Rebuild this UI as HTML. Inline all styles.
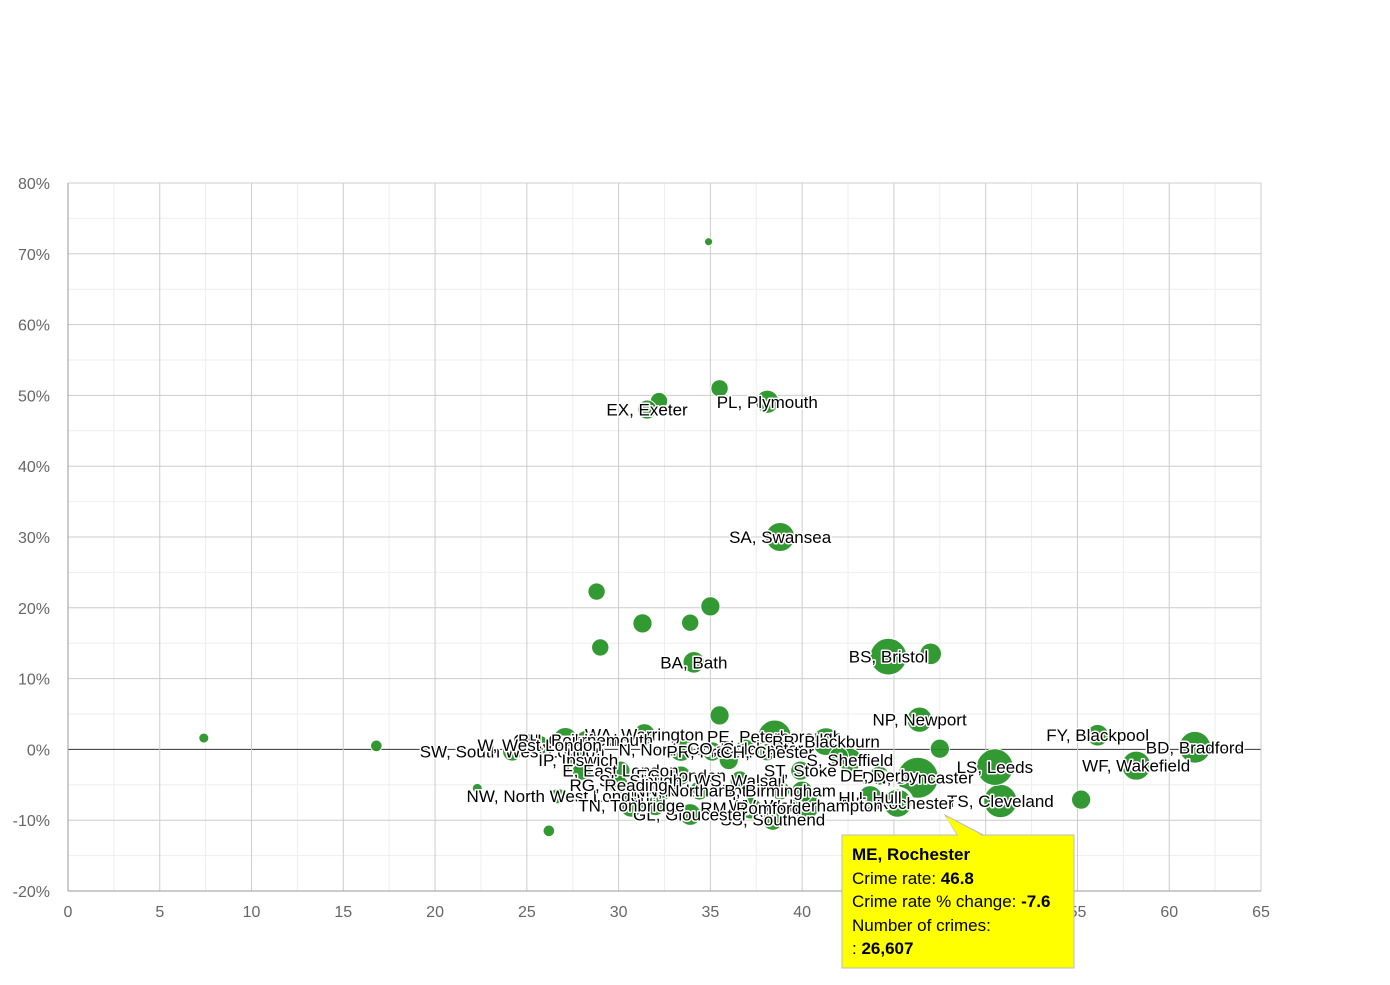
<!DOCTYPE html>
<html><head><meta charset="utf-8"><style>
body{margin:0;background:#fff;font-family:"Liberation Sans",sans-serif}
svg text{font-family:"Liberation Sans",sans-serif}
</style></head><body>
<svg id="chart" width="1390" height="980" xmlns="http://www.w3.org/2000/svg">
<g id="grid"></g>
<g id="axes"></g>
<g id="bubbles"></g>
<g id="labels"></g>
<g>
<path d="M945,815 L958,836 L985,836 Z" fill="#ffff00" stroke="#bbb"/>
<rect x="842" y="835" width="232" height="133" fill="#ffff00" stroke="#bbb"/>
<path d="M946,817 L959,837 L984,837" fill="#ffff00"/>
<text x="852" y="860" font-size="17" font-weight="bold">ME, Rochester</text>
<text x="852" y="884" font-size="17">Crime rate: <tspan font-weight="bold">46.8</tspan></text>
<text x="852" y="907" font-size="17">Crime rate % change: <tspan font-weight="bold">-7.6</tspan></text>
<text x="852" y="931" font-size="17">Number of crimes:</text>
<text x="852" y="954" font-size="17">: <tspan font-weight="bold">26,607</tspan></text>
</g>
</svg>
<script>
const xTicks=[0,5,10,15,20,25,30,35,40,45,50,55,60,65];
const yTicks=[-20,-10,0,10,20,30,40,50,60,70,80];
const rates=[7.4,16.8,22.3,26.2,34.9,35.5,32.2,31.55,38.1,38.8,28.8,35,31.3,33.9,29,34.1,44.7,47,35.5,46.4,47.5,56.1,61.4,58.2,55.2,50.8,50.5,46.3,45.2,43.7,38.5,41.3,40.2,38.4,37.2,33.9,31.4,27.1,28.2,24.2,25.7,26.7,27.8,30.1,30.7,32.3,33.4,35.1,36.9,38.1,33.4,36.6,39.9,42.6,44.2,31.2,34.4,38.8,30,28,36,42,40,32];
const changes=[1.6,0.5,-5.5,-11.5,71.7,51,49.2,48,49.1,30,22.3,20.2,17.8,17.9,14.4,12.3,13.1,13.5,4.8,4.2,0.1,2,0.3,-2.3,-7.1,-7.3,-2.5,-4,-7.6,-6.8,1.8,1.1,-7.9,-9.9,-8.3,-9.2,2.1,1.3,1.3,-0.3,0.6,-6.6,-1.5,-3,-7.9,-5.8,0,-0.3,0.1,-0.4,-3.7,-4.4,-3,-1.5,-3.7,-4.4,-5.8,-5.8,-5,-3,-1.5,-1,-6,-8];
const counts=[3,4,3,4,2,9,9,11,16,25,9,11,11,9,9,14,40,14,11,19,11,14,30,25,11,33,40,50,27,17,33,23,23,14,14,14,14,19,11,11,11,7,11,11,17,14,17,11,11,9,11,11,11,17,11,11,11,11,11,11,11,11,14,11];
const names=["","","","","","","","EX, Exeter","PL, Plymouth","SA, Swansea","","","","","","BA, Bath","BS, Bristol","","","NP, Newport","","FY, Blackpool","BD, Bradford","WF, Wakefield","","TS, Cleveland","LS, Leeds","DN, Doncaster","ME, Rochester","HU, Hull","PE, Peterborough","BB, Blackburn","WV, Wolverhampton","SS, Southend","RM, Romford","GL, Gloucester","WA, Warrington","GU, Guildford","BH, Bournemouth","SW, South West London","W, West London","NW, North West London","IP, Ipswich","E, East London","TN, Tonbridge","YO, York","N, North London","PR, Preston","CO, Colchester","CH, Chester","EC, London","WS, Walsall","ST, Stoke","S, Sheffield","DE, Derby","SL, Slough","NN, Northampton","B, Birmingham","RG, Reading","","","","",""];
const X0=68,X1=1261,Y0=891,Y1=183;
const sx=v=>X0+(v-0)/65*(X1-X0);
const sy=v=>Y0-(v+20)/100*(Y0-Y1);
const NS="http://www.w3.org/2000/svg";
function mk(tag,attrs,parent){const e=document.createElementNS(NS,tag);for(const k in attrs)e.setAttribute(k,attrs[k]);parent.appendChild(e);return e;}
const grid=document.getElementById('grid'),axes=document.getElementById('axes');
for(let v=-20;v<80;v+=5){if(v%10){const l=mk('line',{x1:X0,x2:X1,y1:sy(v),y2:sy(v),stroke:'#eeeeee'},grid);}}
for(let v=2.5;v<65;v+=5){const l=mk('line',{x1:sx(v),x2:sx(v),y1:Y1,y2:Y0,stroke:'#eeeeee'},grid);}
yTicks.forEach(v=>{const l=mk('line',{x1:X0,x2:X1,y1:sy(v),y2:sy(v),stroke:v===0?'#333':'#cccccc'},grid);

const t=mk('text',{x:50,y:sy(v)+6,'text-anchor':'end','font-size':16,fill:'#666'},axes);t.textContent=v+'%';
});
xTicks.forEach(v=>{const l=mk('line',{x1:sx(v),x2:sx(v),y1:Y1,y2:Y0,stroke:'#cccccc'},grid);

const t=mk('text',{x:sx(v),y:917,'text-anchor':'middle','font-size':16,fill:'#666'},axes);t.textContent=v;
});
const ax=mk('line',{x1:X0,x2:X0,y1:Y1,y2:Y0,stroke:'#999'},axes);
const ax2=mk('line',{x1:X0,x2:X1,y1:Y0,y2:Y0,stroke:'#999'},axes);
const bg=document.getElementById('bubbles'),lg=document.getElementById('labels');
rates.forEach((r,i)=>{const hov=names[i]==='ME, Rochester';
const c=mk('circle',{cx:sx(r),cy:sy(changes[i]),r:2.9*Math.sqrt(counts[i]),fill:'#229022','fill-opacity':0.92,stroke:'#fff','stroke-width':hov?3:1},bg);


if(names[i]){const t=mk('text',{x:sx(r),y:sy(changes[i])+6,'text-anchor':'middle','font-size':17,fill:'#000',stroke:'#fff','stroke-width':3,'paint-order':'stroke','stroke-linejoin':'round'},lg);t.textContent=names[i];

}
});
</script>
</body></html>
